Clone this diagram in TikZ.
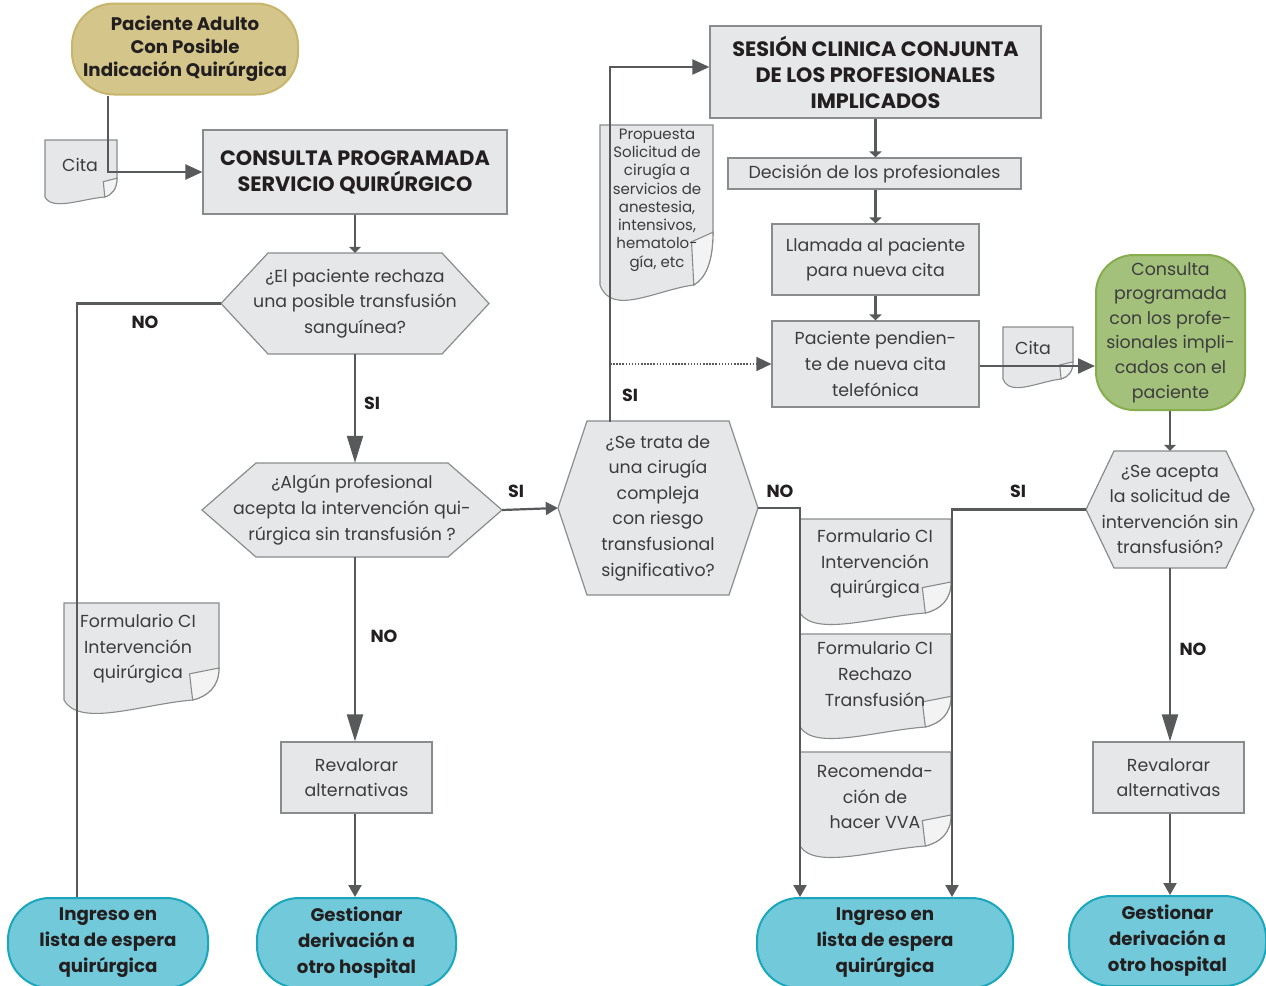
\documentclass[tikz,border=0pt]{standalone}
\usepackage{fontspec}
\setmainfont{Poppins}
\usetikzlibrary{arrows.meta,calc}
\definecolor{boxfill}{HTML}{E6E7E8}
\definecolor{boxdraw}{HTML}{8A8B8C}
\definecolor{conncol}{HTML}{58595B}
\definecolor{txtcol}{HTML}{3C3C3E}
\definecolor{boldcol}{HTML}{231F20}
\definecolor{tanfill}{HTML}{D4C68B}
\definecolor{tandraw}{HTML}{C6B56A}
\definecolor{bluefill}{HTML}{71C9D9}
\definecolor{bluedraw}{HTML}{1AA7BD}
\definecolor{greenfill}{HTML}{A3C17A}
\definecolor{greendraw}{HTML}{86AE4F}
\definecolor{foldfill}{HTML}{F3F3F4}
\newcommand\normtxt{\fontsize{17.4}{25.6}\selectfont}
\newcommand\smalltxt{\fontsize{15}{18.3}\selectfont}
\newcommand\boldtxt{\fontsize{18.2}{26}\selectfont\bfseries}
\newcommand\bigboldtxt{\fontsize{20.8}{26}\selectfont\bfseries}
\newcommand\lbltxt{\fontsize{17.5}{20}\selectfont\bfseries}
\tikzset{
  conn/.style={draw=conncol, line width=2.2pt},
  bigarr/.style={-{Triangle[length=17pt,width=15pt]}},
  longarr/.style={-{Triangle[length=27pt,width=16pt]}},
  medarr/.style={-{Triangle[length=12pt,width=13pt]}},
  smallarr/.style={-{Triangle[length=6pt,width=12pt]}},
  box/.style={rectangle, draw=boxdraw, line width=1.2pt, fill=boxfill, align=center,
    text=txtcol, inner sep=0pt, font=\normtxt},
  hexst/.style={draw=boxdraw, line width=1.2pt, fill=boxfill},
  hextext/.style={rectangle, inner sep=0pt, align=center, text=txtcol, font=\normtxt},
  docst/.style={draw=boxdraw, line width=1.1pt, fill=boxfill},
  foldst/.style={draw=boxdraw, line width=1.1pt, fill=foldfill},
  doctext/.style={inner sep=0pt, align=center, text=txtcol, font=\normtxt},
  term/.style={rectangle, line width=2pt, align=center, inner sep=0pt, text=boldcol, font=\boldtxt},
  lbl/.style={inner sep=0pt, text=boldcol, font=\lbltxt},
}
% hexagon: name, cx, cy, half width, half height, inset, text
\newcommand\hexshape[7]{%
  \filldraw[hexst] ({#2-#4},#3) -- ({#2-#4+#6},{#3-#5}) -- ({#2+#4-#6},{#3-#5}) -- ({#2+#4},#3)
    -- ({#2+#4-#6},{#3+#5}) -- ({#2-#4+#6},{#3+#5}) -- cycle;
  \node[hextext, minimum width={2*#4}, minimum height={2*#5}] (#1) at (#2,#3) {#7};
}
% document: x1, y1, x2, R (rect height), d (wave dip)
\newcommand\docshape[5]{%
  \pgfmathsetmacro\dshW{#3-#1}%
  \pgfmathsetmacro\dshYa{#2+0.67*#4}%
  \pgfmathsetmacro\dshYb{#2+#4}%
  \pgfmathsetmacro\dshYc{#2+0.86*#4}%
  \pgfmathsetmacro\dshYe{#2+0.96*#4}%
  \pgfmathsetmacro\dshYf{#2+0.73*#4}%
  \pgfmathsetmacro\dshXd{#3-0.07*\dshW}%
  \pgfmathsetmacro\dshXf{#3-0.17*\dshW}%
  \pgfmathsetmacro\dshXg{#3-0.19*\dshW}%
  \pgfmathsetmacro\dshXh{#1+0.5*\dshW}%
  \pgfmathsetmacro\dshYh{#2+#4+0.3*#5}%
  \pgfmathsetmacro\dshXi{#1+0.1*\dshW}%
  \pgfmathsetmacro\dshYi{#2+#4+2.0*#5}%
  \filldraw[docst] (#1,#2) -- (#3,#2) -- (#3,\dshYa)
    .. controls (#3,\dshYc) and (\dshXd,\dshYe) .. (\dshXf,\dshYb)
    .. controls (\dshXh,\dshYh) and (\dshXi,\dshYi) .. (#1,\dshYb) -- cycle;
  \filldraw[foldst] (#3,\dshYa) -- (\dshXg,\dshYf) -- (\dshXf,\dshYb)
    .. controls (\dshXd,\dshYe) and (#3,\dshYc) .. (#3,\dshYa) -- cycle;
}
\begin{document}
\begin{tikzpicture}[x=1pt,y=-1pt]
\useasboundingbox (0,0) rectangle (1266,985);
\fill[white] (0,0) rectangle (1266,985);

% documents
\docshape{45}{140}{117}{57}{7}
\node[doctext] (citaL) at (80,165) {Cita};
\docshape{600}{125}{713}{160}{16}
\node[doctext, font=\smalltxt] (prop) at (657,200) {Propuesta\\Solicitud de\\cirugía a\\servicios de\\anestesia,\\intensivos,\\hematolo-\\gía, etc};
\docshape{64}{603}{219}{97}{14}
\node[doctext] (formL) at (138,649) {Formulario CI\\Intervención\\quirúrgica};
\docshape{800}{519}{951}{94}{12}
\node[doctext] (formA) at (875,564) {Formulario CI\\Intervención\\quirúrgica};
\docshape{800}{634}{951}{93}{12}
\node[doctext] (formB) at (875,674) {Formulario CI\\Rechazo\\Transfusión};
\docshape{800}{752}{951}{94}{12}
\node[doctext] (formC) at (875,797) {Recomenda-\\ción de\\hacer VVA};
\docshape{1003}{327}{1073}{52}{9}
\node[doctext] (citaR) at (1033,348) {Cita};

% terminals
\node[term, fill=tanfill, draw=tandraw, minimum width=226, minimum height=91, rounded corners=42pt, font={\fontsize{18.2}{23}\selectfont\bfseries}] (start) at (185,49) {Paciente Adulto\\Con Posible\\Indicación Quirúrgica};
\node[term, fill=bluefill, draw=bluedraw, minimum width=200, minimum height=90, rounded corners=42pt] (ing1) at (108,943) {Ingreso en\\lista de espera\\quirúrgica};
\node[term, fill=bluefill, draw=bluedraw, minimum width=199, minimum height=90, rounded corners=42pt] (gest1) at (356.5,943) {Gestionar\\derivación a\\otro hospital};
\node[term, fill=bluefill, draw=bluedraw, minimum width=256, minimum height=90, rounded corners=42pt] (ing2) at (885,943) {Ingreso en\\lista de espera\\quirúrgica};
\node[term, fill=bluefill, draw=bluedraw, minimum width=197, minimum height=90, rounded corners=42pt] (gest2) at (1167.5,941) {Gestionar\\derivación a\\otro hospital};
\node[term, fill=greenfill, draw=greendraw, minimum width=149, minimum height=155, rounded corners=38pt, font={\fontsize{17.4}{24.6}\selectfont}, text=txtcol] (green) at (1170.5,332.5) {Consulta\\programada\\con los profe-\\sionales impli-\\cados con el\\paciente};

% boxes
\node[box, font=\bigboldtxt, text=boldcol, minimum width=304, minimum height=84] (consulta) at (355,172) {CONSULTA PROGRAMADA\\SERVICIO QUIRÚRGICO};
\node[box, font=\bigboldtxt, text=boldcol, minimum width=331, minimum height=92] (sesion) at (875.5,72) {SESIÓN CLINICA CONJUNTA\\DE LOS PROFESIONALES\\IMPLICADOS};
\node[box, minimum width=293, minimum height=31] (decision) at (874.5,173.5) {Decisión de los profesionales};
\node[box, minimum width=207, minimum height=71] (llamada) at (875.5,259.5) {Llamada al paciente\\para nueva cita};
\node[box, minimum width=207, minimum height=86] (ppend) at (875.5,364) {Paciente pendien-\\te de nueva cita\\telefónica};
\node[box, minimum width=151, minimum height=71] (reval1) at (356.5,777.5) {Revalorar\\alternativas};
\node[box, minimum width=151, minimum height=71] (reval2) at (1168.5,777.5) {Revalorar\\alternativas};

% hexagons
\hexshape{hex1}{355}{303.5}{134}{50.5}{47}{¿El paciente rechaza\\una posible transfusión\\sanguínea?}
\hexshape{hex2}{352}{510}{150}{47}{54}{¿Algún profesional\\acepta la intervención qui-\\rúrgica sin transfusión ?}
\hexshape{hex3}{658}{508}{100}{87}{29}{¿Se trata de\\una cirugía\\compleja\\con riesgo\\transfusional\\significativo?}
\hexshape{hex4}{1170}{509.5}{84}{58.5}{28}{¿Se acepta\\la solicitud de\\intervención sin\\transfusión?}

% connectors
\draw[conn, bigarr] ($(start.south west)+(37,0)$) |- (consulta.west);
\draw[conn, smallarr] (consulta.south) -- (consulta.south |- hex1.north);
\draw[conn] (hex1.west) -| ($(ing1.north)+(-31,0)$);
\draw[conn, longarr] (hex1.south) -- (hex1.south |- hex2.north);
\draw[conn, medarr] (hex2.east) -- (hex3.west);
\draw[conn, longarr] (hex1.south |- hex2.south) -- (hex1.south |- reval1.north);
\draw[conn, medarr] (hex1.south |- reval1.south) -- (hex1.south |- gest1.north);
\coordinate (siup) at ($(hex3.north)+(-48,1)$);
\draw[conn, bigarr] (siup) |- ($(sesion.west)+(0,-5)$);
\draw[conn, line width=1.5pt, dash pattern=on 1.5pt off 1.6pt, -{Triangle[length=15pt,width=14pt]}] (siup |- ppend.west) -- (ppend.west);
\draw[conn, smallarr] (sesion.south) -- (sesion.south |- decision.north);
\draw[conn, smallarr] (sesion.south |- decision.south) -- (sesion.south |- llamada.north);
\draw[conn, smallarr] (sesion.south |- llamada.south) -- (sesion.south |- ppend.north);
\draw[conn, bigarr] ($(ppend.east)+(0,2)$) -- ($(green.west |- ppend.east)+(0,2)$);
\draw[conn, smallarr] (hex4.north |- green.south) -- (hex4.north);
\draw[conn, medarr] (hex3.east) -| ($(ing2.north)+(-85,0)$);
\draw[conn, medarr] (hex4.west) -| ($(ing2.north)+(67,0)$);
\draw[conn, longarr] (hex4.south) -- (hex4.south |- reval2.north);
\draw[conn, medarr] (hex4.south |- reval2.south) -- (hex4.south |- gest2.north);

% labels
\node[lbl] (l1) at (145,322) {NO};
\node[lbl] (l2) at (372,403) {SI};
\node[lbl] (l3) at (516,491) {SI};
\node[lbl] (l4) at (384,636) {NO};
\node[lbl] (l5) at (630,395) {SI};
\node[lbl] (l6) at (780,491) {NO};
\node[lbl] (l7) at (1018,491) {SI};
\node[lbl] (l8) at (1193,649) {NO};
\end{tikzpicture}
\end{document}
